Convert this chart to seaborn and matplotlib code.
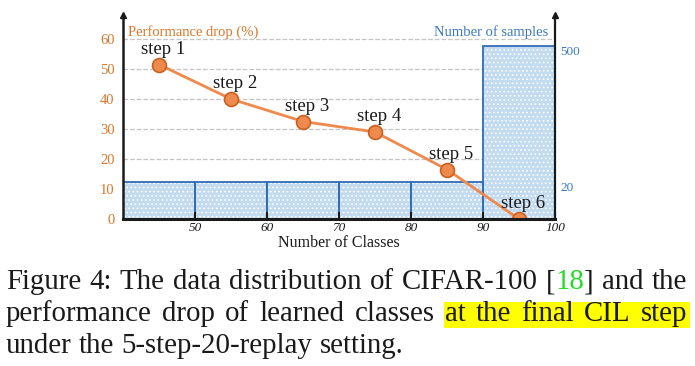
import numpy as np
import seaborn as sns
import matplotlib.pyplot as plt
from matplotlib.patches import Rectangle

# data
classes = [45, 55, 65, 75, 85, 95]
perf_drop = [51.5, 40, 32.5, 29, 16.5, 0]
step_labels = ["step 1", "step 2", "step 3", "step 4", "step 5", "step 6"]
bin_left = [40, 50, 60, 70, 80, 90]
n_samples = [20, 20, 20, 20, 20, 500]
x_ticks = [50, 60, 70, 80, 90, 100]
left_ticks = [0, 10, 20, 30, 40, 50, 60]
right_ticks = [20, 500]

caption_1 = [[("Figure", "k")], [("4:", "k")], [("The", "k")], [("data", "k")],
             [("distribution", "k")], [("of", "k")], [("CIFAR-100", "k")],
             [("[", "k"), ("18", "#22dd22"), ("]", "k")], [("and", "k")], [("the", "k")]]
caption_2 = [[(w, "k")] for w in "performance drop of learned classes at the final CIL step".split()]
caption_3 = [[(w, "k")] for w in "under the 5-step-20-replay setting.".split()]

ORANGE = "#d9772b"
LINE = "#f0894c"
BLUE = "#3a78c0"
EDGE = "#2f6db5"

sns.set_theme(style="white")
plt.rcParams["font.family"] = ["Liberation Serif", "DejaVu Serif"]
plt.rcParams["hatch.linewidth"] = 0.7

W, H = 695, 366
fig = plt.figure(figsize=(W / 100, H / 100), dpi=100)

# bottom layer: percent axis, grid + left ticks
ax = fig.add_axes([123 / W, (H - 219) / H, (555 - 123) / W, (219 - 15) / H])
ax.set_xlim(40, 100)
ax.set_ylim(0, 68)
ax.set_yticks(left_ticks)
ax.yaxis.grid(True, ls="--", color="#c4c4c4", lw=0.9)
ax.tick_params(axis="y", length=0, pad=6, labelcolor=ORANGE, labelsize=10.5)
ax.tick_params(axis="x", bottom=False, labelbottom=False)
for s in ax.spines.values():
    s.set_visible(False)

# middle layer: number of samples (compressed scale)
p = 0.48
ax2 = ax.twinx()
ax2.set_yscale("function", functions=(lambda v: np.power(np.clip(v, 0, None), p),
                                      lambda v: np.power(np.clip(v, 0, None), 1 / p)))
ax2.set_ylim(0, 705)
ax2.bar(bin_left, n_samples, width=10, align="edge", color="#c3dbf1",
        edgecolor="white", hatch="....", lw=0)
ax2.bar(bin_left, n_samples, width=10, align="edge", fill=False,
        edgecolor=EDGE, lw=1.3)
ax2.set_yticks(right_ticks)
ax2.set_yticklabels([str(t) for t in right_ticks])
ax2.tick_params(axis="y", length=0, pad=4, labelcolor=BLUE, labelsize=9.5)
plt.setp(ax2.get_yticklabels(), va="top")
for s in ax2.spines.values():
    s.set_visible(False)

# top layer: performance drop line
ax3 = ax.twinx()
ax3.set_ylim(0, 68)
sns.lineplot(x=classes, y=perf_drop, ax=ax3, color=LINE, lw=2, marker="o",
             markersize=10, markerfacecolor="#ef8a4e", markeredgecolor="#c8611f",
             markeredgewidth=1.2)
for xv, yv, lab in zip(classes, perf_drop, step_labels):
    ax3.annotate(lab, (xv, yv), xytext=(3, 11), textcoords="offset points",
                 ha="center", va="center", fontsize=13.5, color="k")
ax3.yaxis.set_visible(False)
ax3.xaxis.set_visible(True)
ax3.set_xticks(x_ticks)
ax3.set_xticklabels([str(t) for t in x_ticks], fontstyle="italic")
ax3.tick_params(axis="x", direction="in", length=5, width=1.5, pad=2,
                labelsize=9.5, colors="k", bottom=True)
ax3.set_xlabel("Number of Classes", fontsize=11.5, labelpad=1, color="k")
ax3.set_ylabel("")
ax3.spines["top"].set_visible(False)
ax3.spines["left"].set_linewidth(1.8)
ax3.spines["right"].set_linewidth(1.6)
ax3.spines["bottom"].set_linewidth(2.2)
for side in ["left", "right", "bottom"]:
    ax3.spines[side].set_color("k")
ax3.plot([0], [1], marker="^", ms=5, color="k", transform=ax3.transAxes, clip_on=False)
ax3.plot([1], [1], marker="^", ms=5, color="k", transform=ax3.transAxes, clip_on=False)

ax3.text(0.012, 0.915, "Performance drop (%)", transform=ax3.transAxes,
         ha="left", va="center", fontsize=10.5, color=ORANGE)
ax3.text(0.984, 0.915, "Number of samples", transform=ax3.transAxes,
         ha="right", va="center", fontsize=10.5, color=BLUE)

# caption, justified like the paper
renderer = fig.canvas.get_renderer()
CAP_FS = 20.8


def text_width(s):
    t = fig.text(0, 0, s, fontsize=CAP_FS)
    w = t.get_window_extent(renderer).width
    t.remove()
    return w


def place_line(words, base_px, justify, x0=6, x1=687):
    widths = [sum(text_width(seg) for seg, _ in w) for w in words]
    if justify:
        gap = (x1 - x0 - sum(widths)) / (len(words) - 1)
    else:
        gap = text_width("a a") - text_width("aa")
    spans = []
    x = x0
    for w, wd in zip(words, widths):
        start = x
        for seg, col in w:
            fig.text(x / W, (H - base_px) / H, seg, fontsize=CAP_FS, color=col,
                     va="baseline", ha="left", zorder=3)
            x += text_width(seg)
        spans.append((start, x))
        x += gap
    return spans


place_line(caption_1, 289, True)
spans = place_line(caption_2, 321, True)
hx0, hx1 = spans[5][0] - 1, spans[-1][1] + 3
fig.add_artist(Rectangle((hx0 / W, (H - 328) / H), (hx1 - hx0) / W, 26 / H,
                         transform=fig.transFigure, color="#ffff00", zorder=1, lw=0))
place_line(caption_3, 353, False)

fig.savefig("out.png", dpi=100)
